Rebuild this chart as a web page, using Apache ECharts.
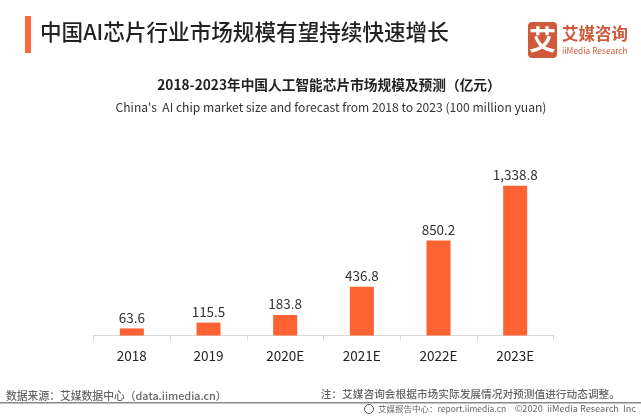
<!DOCTYPE html>
<html><head><meta charset="utf-8">
<style>html,body{margin:0;padding:0;background:#fff}#c{width:641px;height:417px}</style>
<script src="https://cdn.jsdelivr.net/npm/echarts@6/dist/echarts.min.js"></script>
</head><body><div id="c"></div>
<script>
const categories = ['2018','2019','2020E','2021E','2022E','2023E'];
const values = [63.6,115.5,183.8,436.8,850.2,1338.8];
const valueLabels = ['63.6','115.5','183.8','436.8','850.2','1,338.8'];
const F = '"Noto Sans CJK SC","Noto Sans",sans-serif';
const chart = echarts.init(document.getElementById('c'), null, {renderer:'canvas'});
const txt = (x,y,text,size,color,weight,align)=>({type:'text',x,y,style:{text,font:`${weight||400} ${size}px ${F}`,fill:color,textAlign:align||'left',textVerticalAlign:'middle'}});
chart.setOption({
  animation:false,
  backgroundColor:'#fff',
  grid:{left:93.5,right:87.5,top:179,bottom:81.5},
  xAxis:{type:'category',data:categories,
    axisLine:{lineStyle:{color:'#d9d9d9',width:1}},
    axisTick:{show:true,length:5,alignWithLabel:false,lineStyle:{color:'#d9d9d9'}},
    axisLabel:{color:'#222',fontSize:13.5,fontFamily:F,margin:14}},
  yAxis:{type:'value',min:0,max:1400,show:false,splitLine:{show:false}},
  series:[{type:'bar',data:values,barWidth:24,
    itemStyle:{color:'#FC6232'},
    label:{show:true,position:'top',distance:4,color:'#333',fontSize:13.5,fontFamily:F,
      formatter:p=>valueLabels[p.dataIndex]}}],
  graphic:[
    {type:'rect',shape:{x:25,y:16,width:6,height:37},style:{fill:'#F4693D'}},
    txt(40,32,'中国AI芯片行业市场规模有望持续快速增长',21.6,'#222',500),
    {type:'rect',shape:{x:528,y:22,width:29,height:36,r:4},style:{fill:'#CF5A3A'}},
    txt(542.5,40,'艾',27,'#fff',700,'center'),
    txt(562,34,'艾媒咨询',16.5,'#CF5A3A',700),
    txt(562,51,'iiMedia Research',8.4,'#CF5A3A',400),
    txt(329,85,'2018-2023年中国人工智能芯片市场规模及预测（亿元）',13.7,'#222',700,'center'),
    txt(331,107,"China's  AI chip market size and forecast from 2018 to 2023 (100 million yuan)",12.1,'#333',400,'center'),
    txt(6,396,'数据来源：艾媒数据中心（data.iimedia.cn）',10.8,'#666',500),
    txt(620,393.5,'注：艾媒咨询会根据市场实际发展情况对预测值进行动态调整。',10.7,'#666',500,'right'),
    {type:'line',shape:{x1:0,y1:402.7,x2:641,y2:402.7},style:{stroke:'#8a8a8a',lineWidth:1.5}},
    {type:'circle',shape:{cx:369,cy:409,r:4.5},style:{fill:'#fff',stroke:'#555',lineWidth:1}},
    txt(378,408.5,'艾媒报告中心：report.iimedia.cn',8.5,'#666',400),
    txt(636,408.5,'©2020  iiMedia Research  Inc',9.2,'#666',400,'right')
  ]
});
</script></body></html>
